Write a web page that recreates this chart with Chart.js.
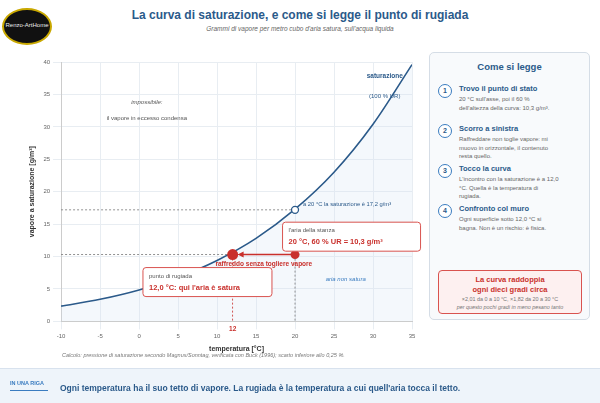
<!DOCTYPE html>
<html><head><meta charset="utf-8">
<script src="https://cdn.jsdelivr.net/npm/chart.js@4.4.1/dist/chart.umd.min.js"></script>
<style>
body{margin:0;width:600px;height:403px;background:#fff;font-family:"Liberation Sans",Arial,sans-serif;position:relative;overflow:hidden}
#logo{position:absolute;left:2px;top:8px;width:46px;height:33px;border-radius:50%;background:#111;border:2px solid #c9a800;color:#eee;font-size:6px;text-align:center;line-height:30px;font-family:"Liberation Sans Narrow",sans-serif;white-space:nowrap;overflow:hidden}
h1{position:absolute;left:0;width:600px;top:8px;margin:0;text-align:center;font-size:12px;color:#2b5a8a;font-weight:bold}
.sub{position:absolute;top:25px;width:600px;text-align:center;font-size:6.5px;font-style:italic;color:#666}
#wrap{position:absolute;left:0;top:50px;width:425px;height:307px}
#side{position:absolute;left:429px;top:52px;width:161px;height:268px;border:1px solid #d5dde6;border-radius:5px;background:#f8fafc;box-sizing:border-box}
#side h2{margin:8px 0 0;text-align:center;font-size:9.5px;color:#2b5a8a}
.st{position:absolute;left:8px;width:150px}
.st .n{position:absolute;left:0;top:0;width:12px;height:12px;border:1.5px solid #3a7cc0;border-radius:50%;text-align:center;font-size:7px;line-height:12px;color:#2b5a8a;font-weight:bold;background:#fff}
.st b{position:absolute;left:21px;top:0;font-size:7.5px;color:#2b5a8a}
.st p{position:absolute;left:21px;top:11px;margin:0;font-size:6px;line-height:8.5px;color:#666;width:100px}
#box{position:absolute;left:8px;top:217px;width:144px;height:44px;border:1px solid #d9534f;border-radius:4px;background:#fdf0f0;text-align:center;box-sizing:border-box}
#box .t{color:#c9302c;font-size:7.5px;font-weight:bold;line-height:10px;margin-top:4px}
#box .s{color:#777;font-size:5.4px;line-height:8px}
.cap{position:absolute;left:62px;top:352px;font-size:5.5px;font-style:italic;color:#777}
#band{position:absolute;left:0;top:368px;width:600px;height:35px;background:#eef4fa;border-top:1px solid #d8e2ee}
#band .k{position:absolute;left:10px;top:11px;font-size:5.5px;font-weight:bold;color:#3a7cc0;border-bottom:1px solid #3a7cc0;padding-bottom:4px;width:38px}
#band .m{position:absolute;left:60px;top:14px;font-size:8.5px;font-weight:bold;color:#2b5a8a}
</style></head><body>
<div id="logo">Renzo-ArtHome</div>
<h1>La curva di saturazione, e come si legge il punto di rugiada</h1>
<div class="sub">Grammi di vapore per metro cubo d'aria satura, sull'acqua liquida</div>
<div id="wrap"><canvas id="c"></canvas></div>
<div id="side"><h2>Come si legge</h2>
<div class="st" style="top:31px"><div class="n">1</div><b>Trovo il punto di stato</b><p>20 °C sull'asse, poi il 60 % dell'altezza della curva: 10,3 g/m³.</p></div>
<div class="st" style="top:71px"><div class="n">2</div><b>Scorro a sinistra</b><p>Raffreddare non toglie vapore: mi muovo in orizzontale, il contenuto resta quello.</p></div>
<div class="st" style="top:111px"><div class="n">3</div><b>Tocco la curva</b><p>L'incontro con la saturazione è a 12,0 °C. Quella è la temperatura di rugiada.</p></div>
<div class="st" style="top:151px"><div class="n">4</div><b>Confronto col muro</b><p>Ogni superficie sotto 12,0 °C si bagna. Non è un rischio: è fisica.</p></div>
<div id="box"><div class="t">La curva raddoppia<br>ogni dieci gradi circa</div><div class="s">×2,01 da 0 a 10 °C, ×1,82 da 20 a 30 °C<br><i>per questo pochi gradi in meno pesano tanto</i></div></div>
</div>
<div class="cap">Calcolo: pressione di saturazione secondo Magnus/Sonntag, verificata con Buck (1996); scarto inferiore allo 0,25 %.</div>
<div id="band"><div class="k">IN UNA RIGA</div><div class="m">Ogni temperatura ha il suo tetto di vapore. La rugiada è la temperatura a cui quell'aria tocca il tetto.</div></div>
<script>
const temps = [-10, -5, 0, 5, 10, 15, 20, 25, 30, 35];
const satur = [2.36, 3.41, 4.85, 6.8, 9.4, 12.8, 17.3, 23.0, 30.4, 39.6];
const roomT = 20, roomV = 10.3, dewT = 12, sat20 = 17.2;

const annot = {
  id: 'annot',
  afterDatasetsDraw(ch) {
    const c = ch.ctx, x = ch.scales.x, y = ch.scales.y;
    const X = v => x.getPixelForValue(v), Y = v => y.getPixelForValue(v);
    c.save();
    c.setLineDash([2, 2]); c.lineWidth = 0.8;
    c.strokeStyle = '#777';
    [sat20, roomV].forEach(v => { c.beginPath(); c.moveTo(X(-10), Y(v)); c.lineTo(X(20), Y(v)); c.stroke(); });
    c.beginPath(); c.moveTo(X(20), Y(roomV)); c.lineTo(X(20), Y(0)); c.stroke();
    c.strokeStyle = '#c9302c';
    c.beginPath(); c.moveTo(X(dewT), Y(roomV)); c.lineTo(X(dewT), Y(0)); c.stroke();
    c.setLineDash([]);
    c.strokeStyle = '#c9302c'; c.fillStyle = '#c9302c'; c.lineWidth = 1.5;
    c.beginPath(); c.moveTo(X(roomT), Y(roomV)); c.lineTo(X(dewT) + 8, Y(roomV)); c.stroke();
    c.beginPath(); c.moveTo(X(dewT) + 5, Y(roomV)); c.lineTo(X(dewT) + 11, Y(roomV) - 3); c.lineTo(X(dewT) + 11, Y(roomV) + 3); c.fill();
    c.beginPath(); c.arc(X(roomT), Y(roomV), 4.5, 0, 7); c.fill();
    c.beginPath(); c.arc(X(dewT), Y(roomV), 5.5, 0, 7); c.fill();
    c.fillStyle = '#fff'; c.strokeStyle = '#2b5a8a'; c.lineWidth = 1.3;
    c.beginPath(); c.arc(X(20), Y(sat20), 3.5, 0, 7); c.fill(); c.stroke();
    c.font = '5.8px "Liberation Sans"'; c.fillStyle = '#2b5a8a'; c.textAlign = 'left';
    c.fillText('a 20 °C la saturazione è 17,2 g/m³', X(20) + 8, Y(sat20) - 4);
    c.textAlign = 'center';
    c.font = 'bold 6.5px "Liberation Sans"'; c.fillText('saturazione', X(31.5), Y(37.5));
    c.font = '6px "Liberation Sans"'; c.fillText('(100 % UR)', X(31.5), Y(34.5));
    c.fillStyle = '#555'; c.font = 'italic 6px "Liberation Sans"'; c.fillText('impossibile:', X(1), Y(33.5));
    c.font = '6px "Liberation Sans"'; c.fillText('il vapore in eccesso condensa', X(1), Y(31));
    c.fillStyle = '#3a7cc0'; c.font = 'italic 6px "Liberation Sans"'; c.fillText('aria non satura', X(26.5), Y(6.2));
    c.fillStyle = '#c9302c'; c.font = 'bold 6.5px "Liberation Sans"'; c.fillText('raffreddo senza togliere vapore', X(16), Y(roomV) + 11);
    c.fillStyle = '#fff'; c.fillRect(X(dewT) - 6, Y(0) + 3, 12, 9);
    c.fillStyle = '#c9302c'; c.font = 'bold 6.5px "Liberation Sans"'; c.fillText('12', X(dewT), Y(0) + 10);
    const box = (bx, by, w, h, a, b) => {
      c.fillStyle = '#fff'; c.strokeStyle = '#d9534f'; c.lineWidth = 1;
      c.beginPath(); c.roundRect(bx, by, w, h, 3); c.fill(); c.stroke();
      c.textAlign = 'left'; c.fillStyle = '#555'; c.font = '6px "Liberation Sans"'; c.fillText(a, bx + 6, by + 10);
      c.fillStyle = '#c9302c'; c.font = 'bold 7.5px "Liberation Sans"'; c.fillText(b, bx + 6, by + 22);
    };
    box(X(18.4), Y(15.3), 138, 29, "l'aria della stanza", '20 °C, 60 % UR = 10,3 g/m³');
    box(X(0.5), Y(8.3), 129, 29, 'punto di rugiada', "12,0 °C: qui l'aria è satura");
    c.restore();
  }
};

new Chart(document.getElementById('c'), {
  type: 'line',
  data: { datasets: [{
    data: temps.map((t, i) => ({ x: t, y: satur[i] })),
    borderColor: '#2b5a8a', borderWidth: 1.6, pointRadius: 0,
    cubicInterpolationMode: 'monotone', fill: 'origin', backgroundColor: 'rgba(210,226,242,0.25)'
  }] },
  options: {
    responsive: true, maintainAspectRatio: false, animation: false,
    layout: { padding: { top: 12, right: 13, left: 24, bottom: 0 } },
    plugins: { legend: { display: false }, tooltip: { enabled: false } },
    scales: {
      x: { type: 'linear', min: -10, max: 35, ticks: { stepSize: 5, font: { size: 6 }, color: '#666' },
           grid: { color: '#e8edf2' }, border: { color: '#ccc' },
           title: { display: true, text: 'temperatura [°C]', font: { size: 7, weight: 'bold' }, color: '#333', padding: { top: 2 } } },
      y: { min: 0, max: 40, ticks: { stepSize: 5, font: { size: 6 }, color: '#666' },
           grid: { color: '#e8edf2' }, border: { color: '#ccc' },
           title: { display: true, text: 'vapore a saturazione [g/m³]', font: { size: 7, weight: 'bold' }, color: '#333' } }
    }
  },
  plugins: [annot]
});
</script></body></html>
